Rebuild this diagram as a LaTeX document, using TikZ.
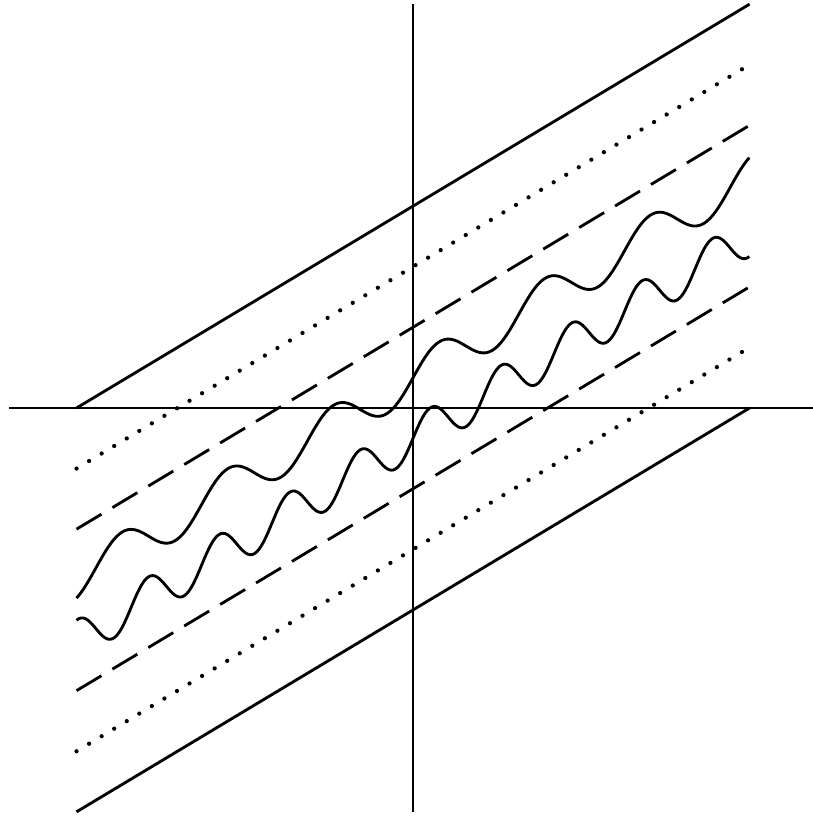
\documentclass[tikz,border=0pt]{standalone}
\begin{document}
\begin{tikzpicture}[line width=1.2pt,
    bornetirets/.style={dash pattern=on 12.3pt off 5.4pt},
    bornepoints/.style={line width=1.8pt,line cap=round,dash pattern=on 0pt off 6.19pt},
    trajectoire/.style={domain=-5:5,samples=300,smooth}]
        \useasboundingbox (-6.137,-6.062) rectangle (5.929,6.062);
        % Axes
        \draw (-6,0) -- (6,0);
        \draw (0,-6) -- (0,6);
        % Bornes extérieures (traits pleins)
        \draw (-5,0) -- (5,6);
        \draw (-5,-6) -- (5,0);
        % Bornes en pointillés
        \draw[bornepoints] (-5,-0.9) -- (5,5.1);
        \draw[bornepoints] (-5,-5.1) -- (5,0.9);
        % Bornes en tirets
        \draw[bornetirets] (-5,-1.8) -- (5,4.2);
        \draw[bornetirets] (-5,-4.2) -- (5,1.8);
        % Trajectoires oscillantes
        \draw[trajectoire] plot (\x,{0.6*\x+0.45+0.3*sin(4*\x r)});
        \draw[trajectoire] plot (\x,{0.6*\x-0.45+0.3*sin(6*\x r)});
    \end{tikzpicture}
\end{document}
